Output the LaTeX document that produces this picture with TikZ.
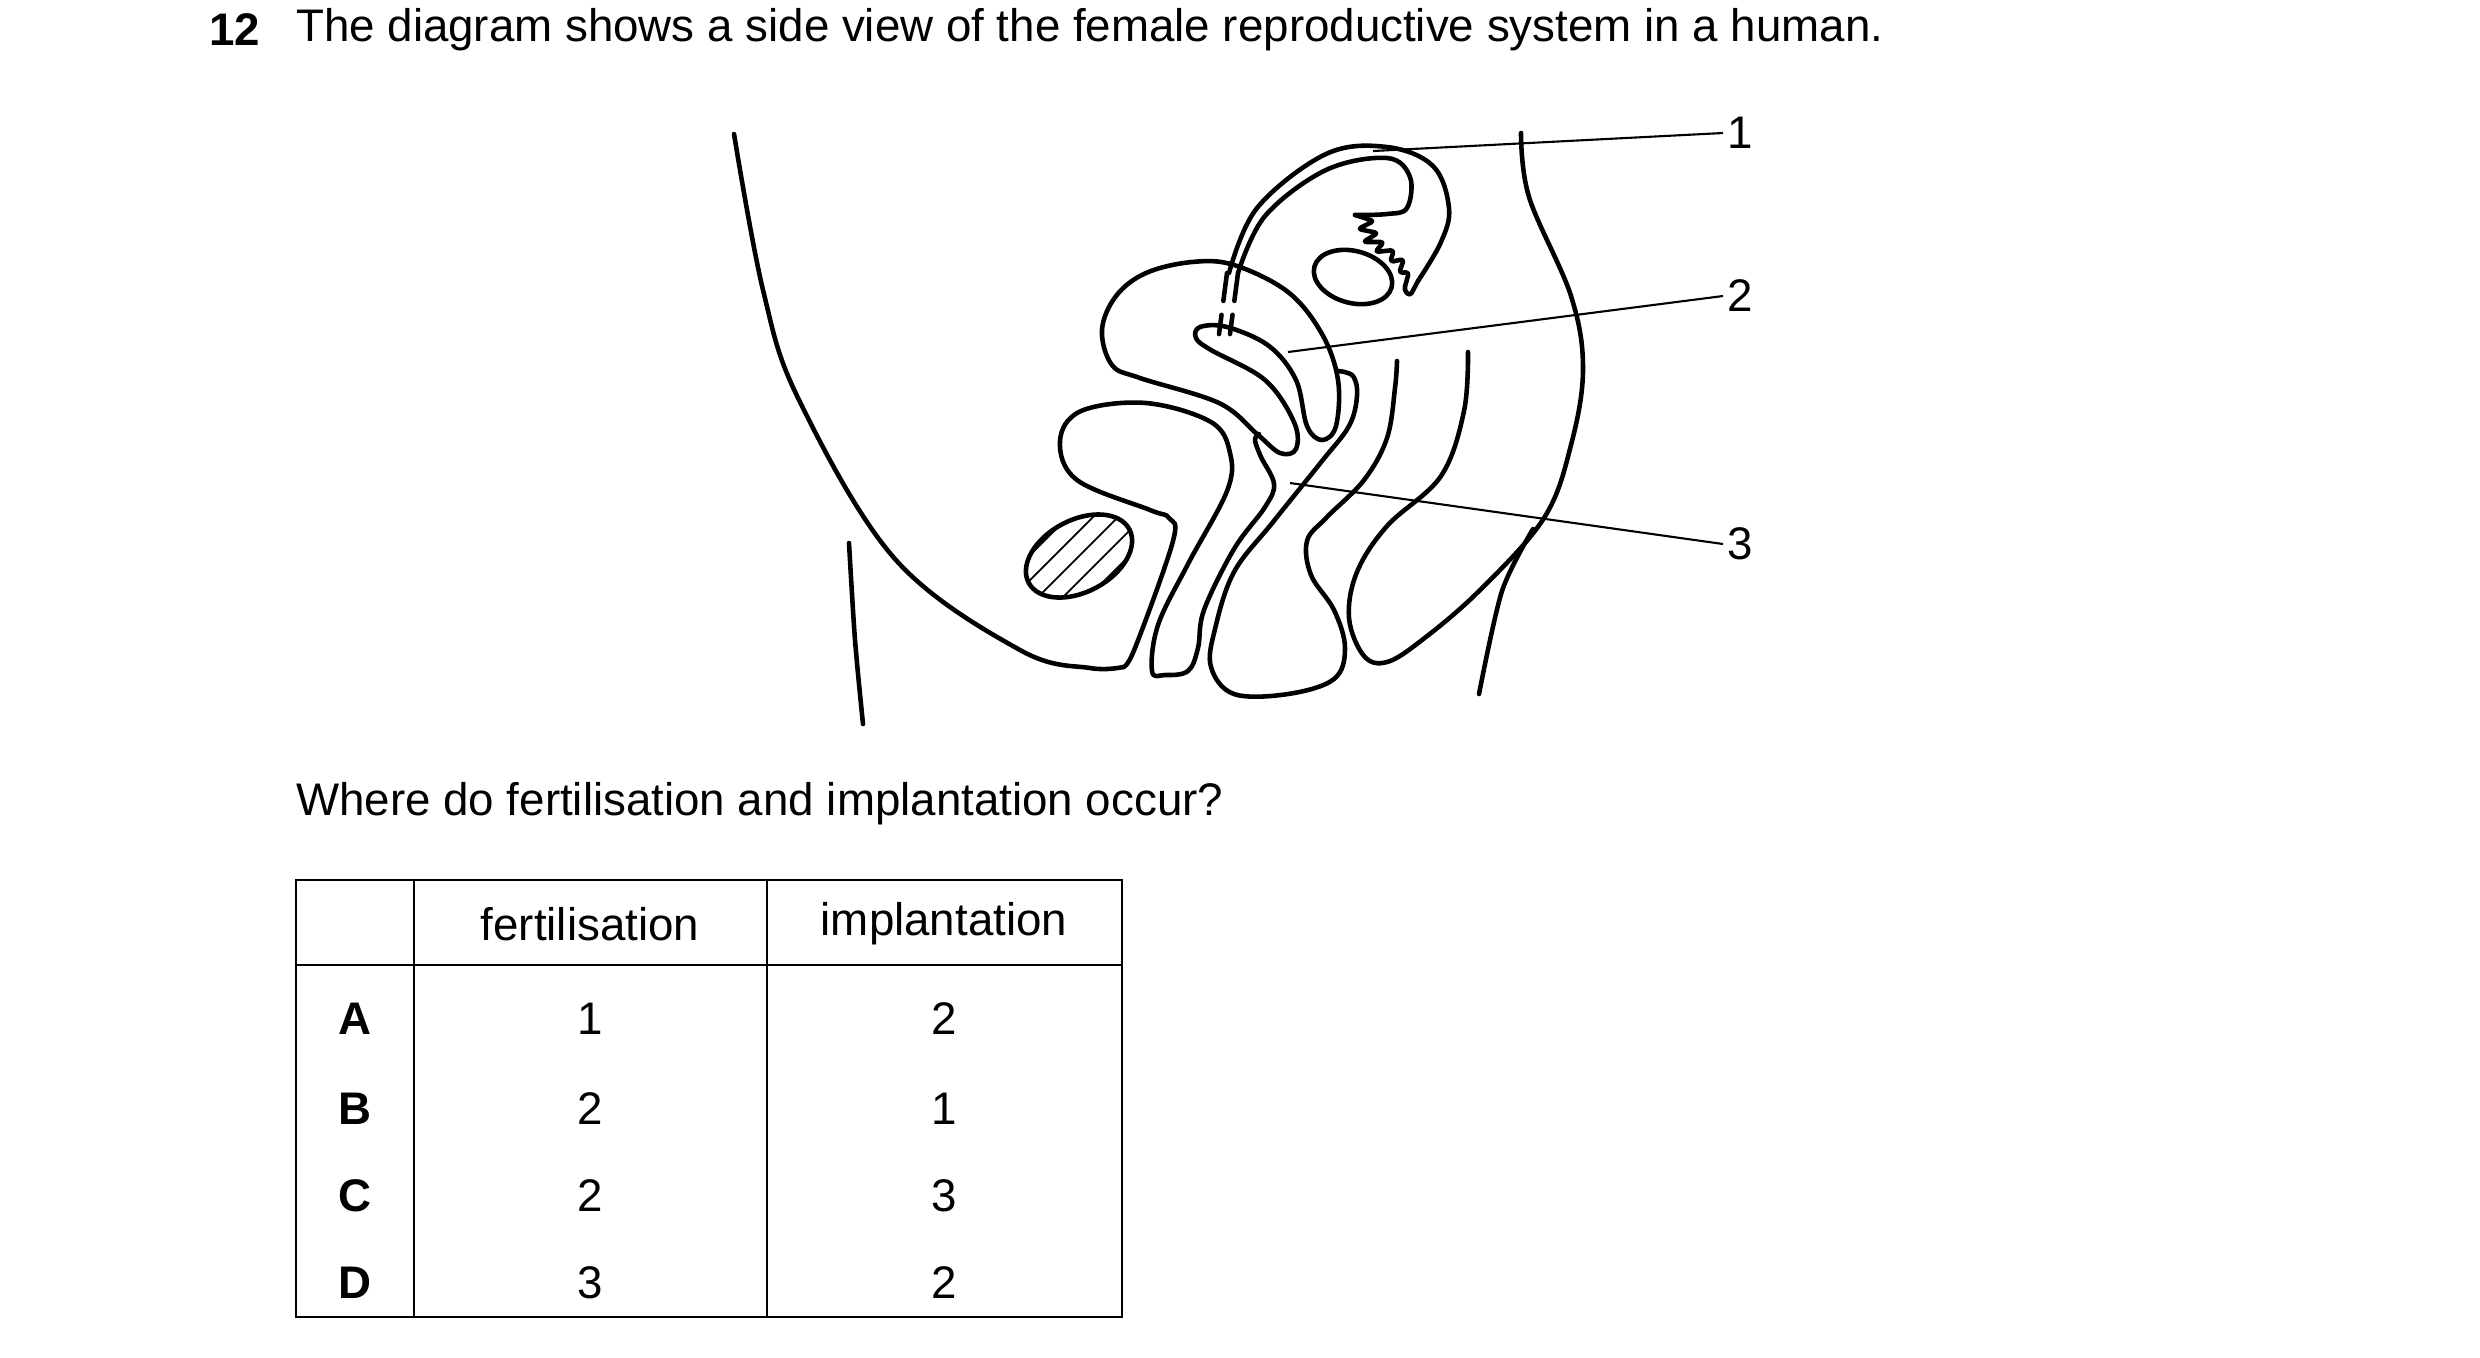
\documentclass[tikz,border=0pt]{standalone}
\usepackage{fontspec}
\setmainfont{Liberation Sans}
\usetikzlibrary{positioning}
\tikzstyle{organ}=[line width=1.3pt, line join=round, line cap=round]
\tikzstyle{lbl}=[inner sep=1pt, font=\fontsize{13}{16}\selectfont]
\tikzstyle{ptr}=[line width=0.6pt]
\tikzstyle{grid}=[line width=0.8pt]

\begin{document}
\begin{tikzpicture}[x=0.1mm,y=-0.1mm]
\useasboundingbox (0,0) rectangle (2480,1357);

% question
\node[lbl, font=\fontsize{13}{16}\selectfont\bfseries] (num) at (235,30) {12};
\node[lbl, anchor=west] (q) at (292,30) {The diagram shows a side view of the female reproductive system in a human.};

% body outline
\draw[organ] plot[smooth, tension=0.6] coordinates {(734,134) (763,290) (799,400) (895,559) (1020,650) (1090,668) (1123,667)};
\draw[organ] plot[smooth] coordinates {(849,543) (855,640) (863,724)};
% bladder and urethra
\draw[organ] plot[smooth, tension=0.6] coordinates {(1123,667) (1135,648) (1173,541) (1169,518) (1150,510) (1077,480) (1060,441) (1081,411) (1146,403) (1211,422) (1230,453) (1227,491) (1188,564) (1158,625) (1152,671) (1165,675) (1188,671) (1198,648) (1204,610) (1234,549) (1265,507) (1274,484) (1261,457) (1255,440) (1259,434)};
% uterus
\draw[organ] plot[smooth cycle, tension=0.6] coordinates {(1192,262) (1146,273) (1116,296) (1102,330) (1112,365) (1140,378) (1219,403) (1257,434) (1280,453) (1296,449) (1294,422) (1265,380) (1211,350) (1196,338) (1200,327) (1227,327) (1269,346) (1296,380) (1307,426) (1322,440) (1336,426) (1338,380) (1322,334) (1288,292) (1234,265)};
% oviduct
\draw[organ] plot[smooth, tension=0.6] coordinates {(1229,273) (1257,208) (1326,154) (1387,147) (1433,166) (1449,208) (1441,242) (1418,281)};
\draw[organ] plot[smooth, tension=0.6] coordinates {(1238,273) (1265,216) (1326,170) (1387,158) (1410,177) (1407,208) (1387,214) (1355,215)};
\draw[organ, rounded corners=1pt] (1355,215) -- (1374,221) -- (1358,229) -- (1378,233) -- (1363,242) -- (1384,242) -- (1375,252) -- (1394,250) -- (1390,262) -- (1404,259) -- (1399,273) -- (1409,272) -- (1404,290) -- (1410,296) -- (1418,281);
\draw[organ, dash pattern=on 8pt off 4pt] (1227,273) -- (1219,334);
\draw[organ, dash pattern=on 8pt off 4pt] (1238,273) -- (1230,334);
% ovary
\draw[organ] (1353,277) ellipse[x radius=40, y radius=26, rotate=-15];
% pubic bone
\begin{scope}
\clip (1079,556) ellipse[x radius=57, y radius=36, rotate=28];
\foreach \i in {-100,-75,...,100}
  \draw[line width=0.5pt] (1079+\i-70,626) -- (1079+\i+70,486);
\end{scope}
\draw[organ] (1079,556) ellipse[x radius=57, y radius=36, rotate=28];
% vagina
\draw[organ] plot[smooth, tension=0.6] coordinates {(1338,371) (1353,376) (1357,396) (1349,426) (1322,461) (1273,522) (1234,572) (1215,629) (1211,667) (1234,694) (1288,694) (1334,679) (1345,648) (1334,610) (1311,575) (1307,541) (1326,518) (1364,480) (1387,438) (1395,388) (1397,361)};
% back and rectum
\draw[organ] plot[smooth, tension=0.6] coordinates {(1521,133) (1529,197) (1571,296) (1583,369) (1571,445) (1544,518) (1479,591) (1422,640) (1387,662) (1364,656) (1349,618) (1357,572) (1387,526) (1441,476) (1464,411) (1468,352)};
\draw[organ] plot[smooth] coordinates {(1479,694) (1502,591) (1533,529)};

% labels
\node[lbl, anchor=west] (l1) at (1723,133) {1};
\node[lbl, anchor=west] (l2) at (1723,296) {2};
\node[lbl, anchor=west] (l3) at (1723,544) {3};
\coordinate (p1) at (1373,151);
\coordinate (p2) at (1288,352);
\coordinate (p3) at (1290,483);
\draw[ptr] (p1) -- (l1.west);
\draw[ptr] (p2) -- (l2.west);
\draw[ptr] (p3) -- (l3.west);

\node[lbl, anchor=west] (q2) at (292,804) {Where do fertilisation and implantation occur?};

% table
\draw[grid] (296,880) rectangle (1122,1317);
\draw[grid] (414,880) -- (414,1317);
\draw[grid] (767,880) -- (767,1317);
\draw[grid] (296,965) -- (1122,965);
\node[lbl] (hf) at (590,924) {fertilisation};
\node[lbl] (hi) at (944,924) {implantation};
\foreach \r/\y/\f/\m in {A/1019/1/2, B/1109/2/1, C/1196/2/3, D/1283/3/2} {
  \node[lbl, font=\fontsize{13}{16}\selectfont\bfseries] (o\r) at (355,\y) {\r};
  \node[lbl] (f\r) at (590,\y) {\f};
  \node[lbl] (m\r) at (944,\y) {\m};
}
\end{tikzpicture}
\end{document}
